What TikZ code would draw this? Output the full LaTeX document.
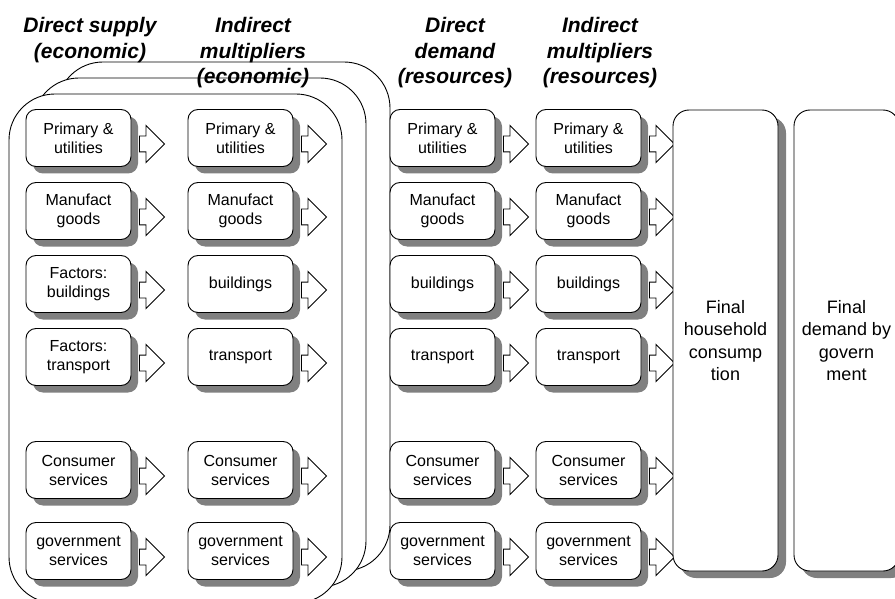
\documentclass[tikz,border=0pt]{standalone}
\usepackage{fontspec}
\setmainfont{Liberation Sans}
\usetikzlibrary{shapes.arrows}

\definecolor{shadowgray}{RGB}{128,128,128}

\tikzset{
  cell/.style={draw, fill=white, rounded corners=10pt, minimum width=105pt,
    minimum height=57pt, align=center, inner sep=0pt,
    font=\fontsize{16}{19}\selectfont},
  bigcell/.style={cell, rounded corners=16pt, minimum height=461pt,
    font=\fontsize{18}{22.5}\selectfont},
  cellshadow/.style={fill=shadowgray, rounded corners=10pt},
  blockarrow/.style={draw, fill=white, single arrow, single arrow head extend=10.5pt,
    inner xsep=0pt, inner ysep=7.5pt, minimum height=25pt, outer sep=0pt, anchor=tail},
  heading/.style={align=center, anchor=north, inner sep=0pt,
    font=\fontsize{21}{25.5}\selectfont\bfseries\itshape},
  layer/.style={draw, fill=white, rounded corners=46pt}
}

\begin{document}
\begin{tikzpicture}[x=1pt, y=-1pt, line width=0.9pt]
\useasboundingbox (0,0) rectangle (895,599);

% economic stack, back to front
\draw[layer] (57,62) rectangle (390,571);
\draw[layer] (33,78) rectangle (366,587);
\draw[layer] (9,94) rectangle (342,603);

% column headings
\node[heading] (head1) at (90,17) {Direct supply\\(economic)};
\node[heading] (head2) at (253,17) {Indirect\\multipliers\\(economic)};
\node[heading] (head3) at (455,17) {Direct\\demand\\(resources)};
\node[heading] (head4) at (600,17) {Indirect\\multipliers\\(resources)};

% sectors: shadow first, then the four cells and their arrows
\foreach \r/\y/\a/\b in {p/138/{Primary \&\\utilities}/{Primary \&\\utilities},
    m/211/{Manufact\\goods}/{Manufact\\goods},
    b/284/{Factors:\\buildings}/buildings,
    t/357/{Factors:\\transport}/transport,
    c/470/{Consumer\\services}/{Consumer\\services},
    g/551/{government\\services}/{government\\services}} {
  \foreach \x in {78.5,240.5,442.5,588.5}
    \path[cellshadow] (\x-45.5,\y-21.5) rectangle (\x+59.5,\y+35.5);
  \node[cell] (\r1) at (78.5,\y) {\a};
  \node[cell] (\r2) at (240.5,\y) {\b};
  \node[cell] (\r3) at (442.5,\y) {\b};
  \node[cell] (\r4) at (588.5,\y) {\b};
  \foreach \c in {1,...,4}
    \node[blockarrow] (\r\c-arr) at ([shift={(8,6)}]\r\c.east) {};
}

% final demand
\path[cellshadow, rounded corners=16pt] (680,117) rectangle (786,578);
\path[cellshadow, rounded corners=16pt] (801,117) rectangle (907,578);
\node[bigcell] (house) at (725.5,340.5) {Final\\household\\consump\\tion};
\node[bigcell] (govt) at (846.5,340.5) {Final\\demand by\\govern\\ment};
\end{tikzpicture}
\end{document}
